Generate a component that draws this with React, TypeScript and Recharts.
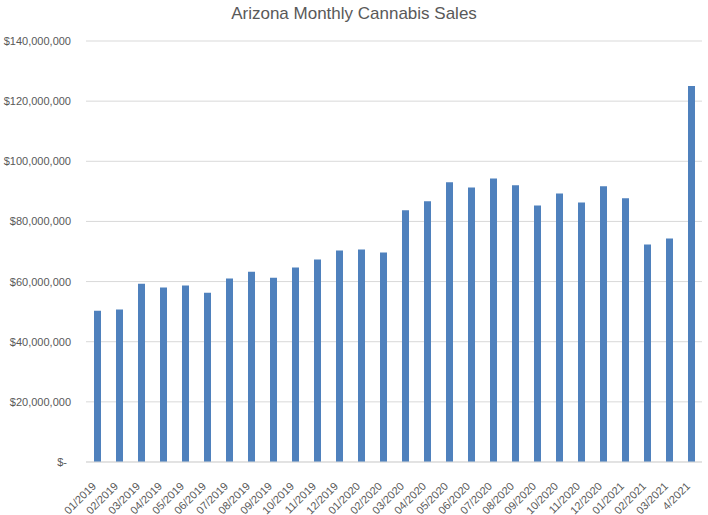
import { BarChart, Bar, XAxis, YAxis, CartesianGrid } from "recharts";

const months = [
    "01/2019", "02/2019", "03/2019", "04/2019", "05/2019", "06/2019", "07/2019",
    "08/2019", "09/2019", "10/2019", "11/2019", "12/2019", "01/2020", "02/2020",
    "03/2020", "04/2020", "05/2020", "06/2020", "07/2020", "08/2020", "09/2020",
    "10/2020", "11/2020", "12/2020", "01/2021", "02/2021", "03/2021", "4/2021",
];

const sales = [
    50300000, 50700000, 59300000, 58000000, 58700000, 56300000, 61000000,
    63300000, 61300000, 64700000, 67300000, 70300000, 70700000, 69700000,
    83700000, 86700000, 93000000, 91300000, 94300000, 92000000, 85300000,
    89300000, 86300000, 91700000, 87700000, 72300000, 74300000, 125000000,
];

const yTicks = [0, 20000000, 40000000, 60000000, 80000000, 100000000, 120000000, 140000000];

const data = months.map((m, i) => ({ month: m, sales: sales[i] }));

const font = "'Liberation Sans', Arial, sans-serif";

const YTick = (props: any) => {
    const { x, y, payload } = props;
    const v = payload.value;
    const label = v === 0 ? "$-" : "$" + v.toLocaleString("en-US");
    return (
        <text x={v === 0 ? x - 4 : x} y={y} dy={4} textAnchor="end"
            fill="#595959" fontSize={11} fontFamily={font}>
            {label}
        </text>
    );
};

const XTick = (props: any) => {
    const { x, y, payload } = props;
    return (
        <g transform={`translate(${x - 3},${y + 14})`}>
            <text x={0} y={0} dy={4} textAnchor="end" transform="rotate(-45)"
                fill="#595959" fontSize={11} fontFamily={font}>
                {payload.value}
            </text>
        </g>
    );
};

export default function App() {
    return (
        <div style={{ position: "absolute", left: 0, top: 0, width: 708, height: 515, background: "#fff" }}>
            <div style={{
                position: "absolute", top: 4, width: 708, textAlign: "center",
                fontFamily: font, fontSize: 17, color: "#595959",
            }}>
                Arizona Monthly Cannabis Sales
            </div>
            <BarChart width={708} height={515} data={data}
                margin={{ top: 41, right: 6, left: 0, bottom: 0 }}>
                <CartesianGrid vertical={false} stroke="#d9d9d9" />
                <XAxis dataKey="month" interval={0} height={53}
                    axisLine={{ stroke: "#d9d9d9" }} tickLine={false} tick={<XTick />} />
                <YAxis width={86} domain={[0, 140000000]} ticks={yTicks}
                    axisLine={false} tickLine={false} tickSize={0} tickMargin={15}
                    tick={<YTick />} />
                <Bar dataKey="sales" fill="#4f81bd" barSize={7} isAnimationActive={false} />
            </BarChart>
        </div>
    );
}
